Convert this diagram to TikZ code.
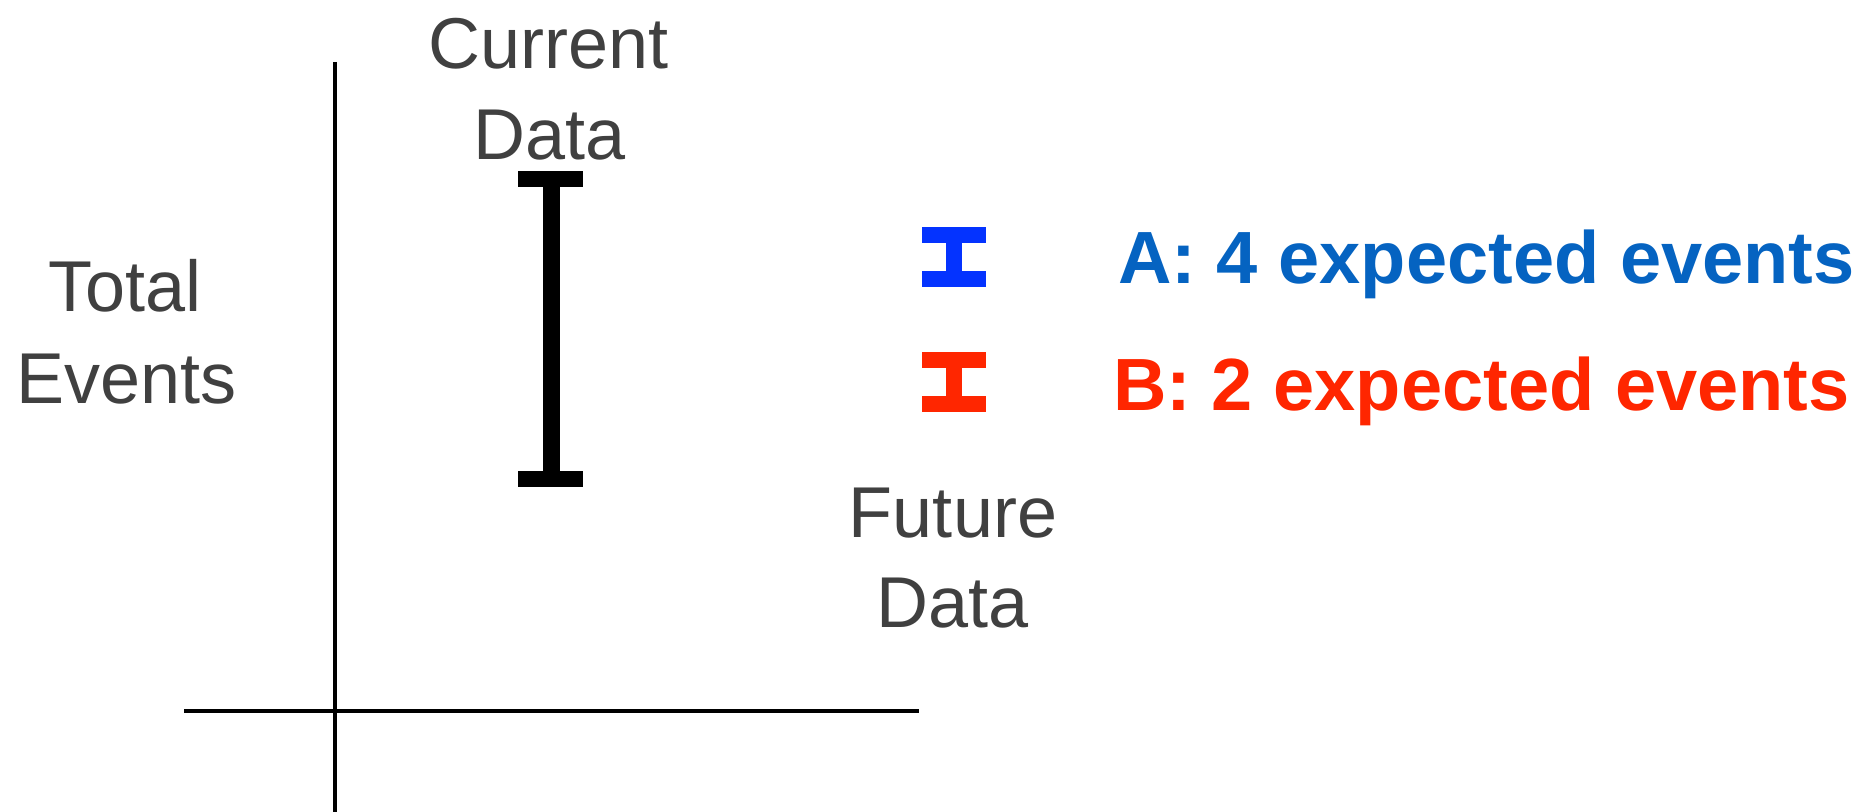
\documentclass[tikz,border=0pt]{standalone}
\usepackage{fontspec}
\setmainfont{Liberation Sans}
\definecolor{labelgray}{HTML}{404040}
\definecolor{barblue}{HTML}{0433FF}
\definecolor{textblue}{HTML}{0563C1}
\definecolor{barred}{HTML}{FF2600}
\begin{document}
\begin{tikzpicture}[x=0.5pt,y=-0.5pt,
  axis/.style={line width=1.9pt,black},
  graylabel/.style={inner sep=0pt,anchor=base,text=labelgray,font=\fontsize{36}{44}\selectfont},
  legendlabel/.style={inner sep=0pt,anchor=base west,font=\fontsize{37}{44}\selectfont\bfseries}]
\useasboundingbox (0,0) rectangle (1865,812);
% axes
\coordinate (ytop) at (335,62);
\coordinate (ybot) at (335,812);
\coordinate (xleft) at (184,711);
\coordinate (xright) at (919,711);
\draw[axis] (ytop) -- (ybot);
\draw[axis] (xleft) -- (xright);
% black error bar
\fill[black] (543,180) rectangle (560,478);
\fill[black] (518,171) rectangle (583,187);
\fill[black] (518,471) rectangle (583,487);
% blue error bar
\fill[barblue] (946,240) rectangle (962,274);
\fill[barblue] (922,227) rectangle (986,243);
\fill[barblue] (922,271) rectangle (986,287);
% red error bar
\fill[barred] (946,365) rectangle (962,399);
\fill[barred] (922,352) rectangle (986,368);
\fill[barred] (922,396) rectangle (986,412);
% labels
\node[graylabel] (cur1) at (549,69) {Current};
\node[graylabel] (cur2) at (549.5,160) {Data};
\node[graylabel] (tot1) at (125,312) {Total};
\node[graylabel] (tot2) at (126.5,404) {Events};
\node[graylabel] (fut1) at (953,538) {Future};
\node[graylabel] (fut2) at (952.5,628) {Data};
\node[legendlabel,text=textblue] (la) at (1118,284) {A: 4 expected events};
\node[legendlabel,text=barred] (lb) at (1113,411) {B: 2 expected events};
\end{tikzpicture}
\end{document}
